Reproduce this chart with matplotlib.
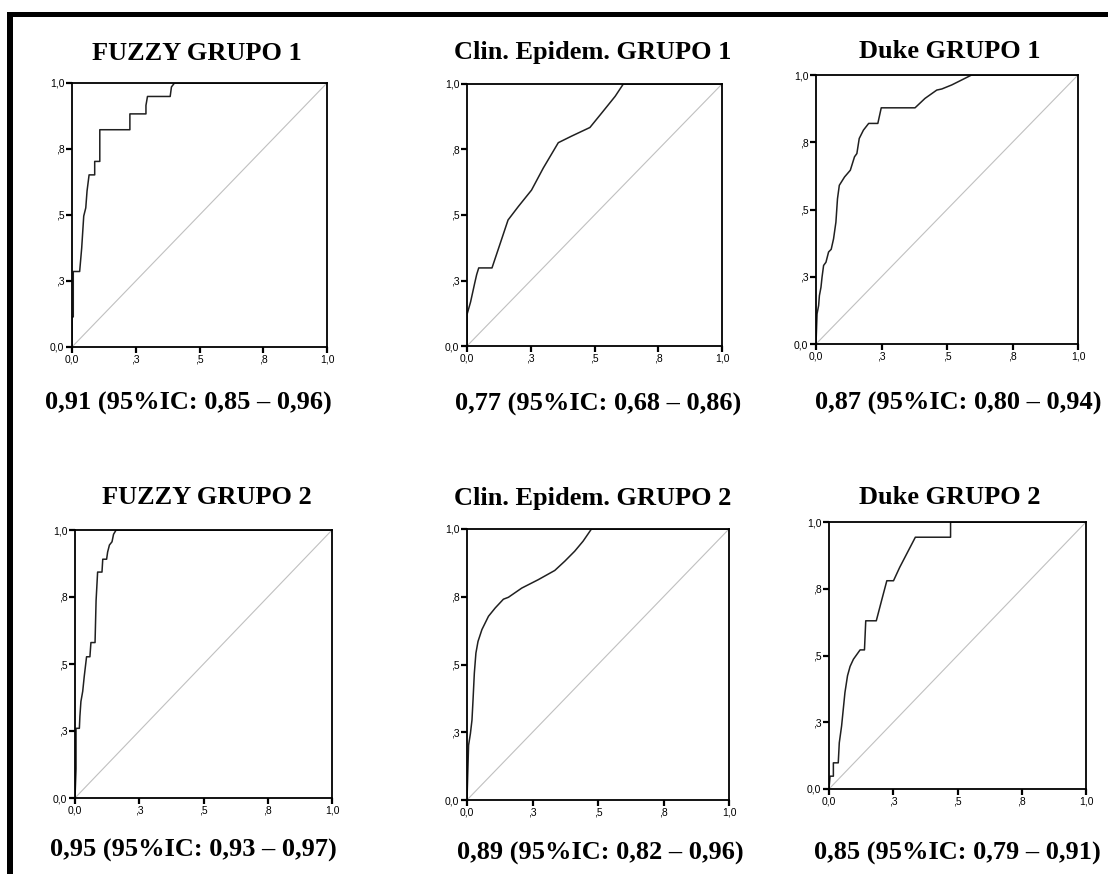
import matplotlib
matplotlib.use("Agg")
import matplotlib.pyplot as plt
from matplotlib.patches import Rectangle

W, H = 1108, 874

titles = ["FUZZY GRUPO 1", "Clin. Epidem. GRUPO 1", "Duke GRUPO 1",
          "FUZZY GRUPO 2", "Clin. Epidem. GRUPO 2", "Duke GRUPO 2"]
auc_labels = ["0,91 (95%IC: 0,85 \u2013 0,96)", "0,77 (95%IC: 0,68 \u2013 0,86)",
              "0,87 (95%IC: 0,80 \u2013 0,94)", "0,95 (95%IC: 0,93 \u2013 0,97)",
              "0,89 (95%IC: 0,82 \u2013 0,96)", "0,85 (95%IC: 0,79 \u2013 0,91)"]
tick_vals = [0, 0.25, 0.5, 0.75, 1.0]
tick_labels = ["0,0", ",3", ",5", ",8", "1,0"]

# ROC curves (1 - specificity, sensitivity)
fuzzy1_x = [0, 0, 0.005, 0.005, 0.03, 0.038, 0.046, 0.054, 0.059, 0.067, 0.089, 0.089,
            0.109, 0.109, 0.227, 0.227, 0.290, 0.290, 0.296, 0.385, 0.390, 0.402, 1.0]
fuzzy1_y = [0, 0.114, 0.114, 0.286, 0.286, 0.375, 0.496, 0.527, 0.591, 0.652, 0.652, 0.703,
            0.703, 0.823, 0.823, 0.883, 0.883, 0.915, 0.949, 0.949, 0.985, 1.0, 1.0]

clin1_x = [0, 0, 0.014, 0.030, 0.038, 0.046, 0.098, 0.128, 0.161, 0.201, 0.253, 0.299,
           0.358, 0.410, 0.482, 0.528, 0.581, 0.613, 1.0]
clin1_y = [0, 0.120, 0.168, 0.239, 0.273, 0.298, 0.298, 0.385, 0.481, 0.532, 0.595, 0.679,
           0.776, 0.801, 0.834, 0.889, 0.953, 1.0, 1.0]

duke1_x = [0, 0.004, 0.010, 0.013, 0.019, 0.023, 0.029, 0.038, 0.048, 0.058, 0.067, 0.076,
           0.082, 0.089, 0.109, 0.131, 0.147, 0.156, 0.165, 0.181, 0.201, 0.236, 0.249,
           0.378, 0.416, 0.461, 0.480, 0.518, 0.594, 1.0]
duke1_y = [0, 0.112, 0.143, 0.180, 0.211, 0.248, 0.292, 0.304, 0.342, 0.352, 0.391, 0.453,
           0.540, 0.590, 0.621, 0.646, 0.696, 0.708, 0.764, 0.795, 0.820, 0.820, 0.878,
           0.878, 0.913, 0.944, 0.948, 0.963, 1.0, 1.0]

fuzzy2_x = [0, 0.004, 0.004, 0.017, 0.019, 0.023, 0.030, 0.036, 0.045, 0.058, 0.062, 0.078,
            0.082, 0.088, 0.105, 0.108, 0.123, 0.127, 0.134, 0.144, 0.150, 0.160, 1.0]
fuzzy2_y = [0, 0.109, 0.260, 0.260, 0.304, 0.360, 0.398, 0.454, 0.527, 0.527, 0.580, 0.580,
            0.736, 0.843, 0.843, 0.891, 0.891, 0.918, 0.944, 0.956, 0.984, 1.0, 1.0]

clin2_x = [0, 0.006, 0.013, 0.019, 0.023, 0.028, 0.034, 0.042, 0.057, 0.082, 0.108, 0.139,
           0.158, 0.209, 0.272, 0.335, 0.373, 0.411, 0.443, 0.475, 1.0]
clin2_y = [0, 0.202, 0.245, 0.295, 0.369, 0.468, 0.542, 0.585, 0.629, 0.678, 0.709, 0.741,
           0.748, 0.782, 0.813, 0.847, 0.881, 0.918, 0.955, 1.0, 1.0]

duke2_x = [0, 0.004, 0.017, 0.017, 0.036, 0.040, 0.049, 0.062, 0.072, 0.082, 0.095, 0.121,
           0.138, 0.143, 0.184, 0.206, 0.225, 0.251, 0.275, 0.336, 0.473, 0.473, 1.0]
duke2_y = [0, 0.048, 0.048, 0.098, 0.098, 0.173, 0.236, 0.361, 0.424, 0.459, 0.486, 0.521,
           0.521, 0.630, 0.630, 0.711, 0.780, 0.780, 0.830, 0.943, 0.943, 1.0, 1.0]

curves = [(fuzzy1_x, fuzzy1_y), (clin1_x, clin1_y), (duke1_x, duke1_y),
          (fuzzy2_x, fuzzy2_y), (clin2_x, clin2_y), (duke2_x, duke2_y)]

# pixel boxes of the axes (left, right, top, bottom) and text centres
boxes = [(72, 327, 83, 347), (467, 722, 84, 346), (816, 1078, 75, 344),
         (75, 332, 530, 798), (467, 729, 529, 800), (829, 1086, 522, 789)]
title_pos = [(197, 53), (593, 53), (950, 52), (207, 497), (593, 498), (950, 497)]
auc_pos = [(188, 403), (598, 404), (958, 403), (193, 850), (600, 853), (957, 853)]

fig = plt.figure(figsize=(W / 100, H / 100), dpi=100)
fig.patch.set_facecolor("white")

serif = "Liberation Serif"

for i in range(6):
    l, r, t, b = boxes[i]
    ax = fig.add_axes([l / W, 1 - b / H, (r - l) / W, (b - t) / H])
    ax.plot([0, 1], [0, 1], color="#c0c0c0", lw=0.8)
    x, y = curves[i]
    ax.plot(x, y, color="#202020", lw=1.1)
    ax.set_xlim(0, 1)
    ax.set_ylim(0, 1)
    ax.set_xticks(tick_vals)
    ax.set_yticks(tick_vals)
    ax.set_xticklabels(tick_labels, fontsize=7.5, family="Liberation Sans")
    ax.set_yticklabels(tick_labels, fontsize=7.5, family="Liberation Sans")
    ax.tick_params(length=4, width=1.6, pad=1.5, color="black")
    for s in ax.spines.values():
        s.set_linewidth(1.3)
        s.set_color("black")

    tx, ty = title_pos[i]
    fig.text(tx / W, 1 - ty / H, titles[i], ha="center", va="center",
             fontsize=19, fontweight="bold", family=serif)
    ax_, ay_ = auc_pos[i]
    fig.text(ax_ / W, 1 - ay_ / H, auc_labels[i], ha="center", va="center",
             fontsize=19, fontweight="bold", family=serif)

# thick frame on the top and left edge
fig.add_artist(Rectangle((7 / W, 1 - 17 / H), 1, 5 / H, transform=fig.transFigure,
                         color="black", lw=0))
fig.add_artist(Rectangle((7 / W, 0), 6 / W, 1 - 12 / H, transform=fig.transFigure,
                         color="black", lw=0))

fig.savefig("out.png", dpi=100)
